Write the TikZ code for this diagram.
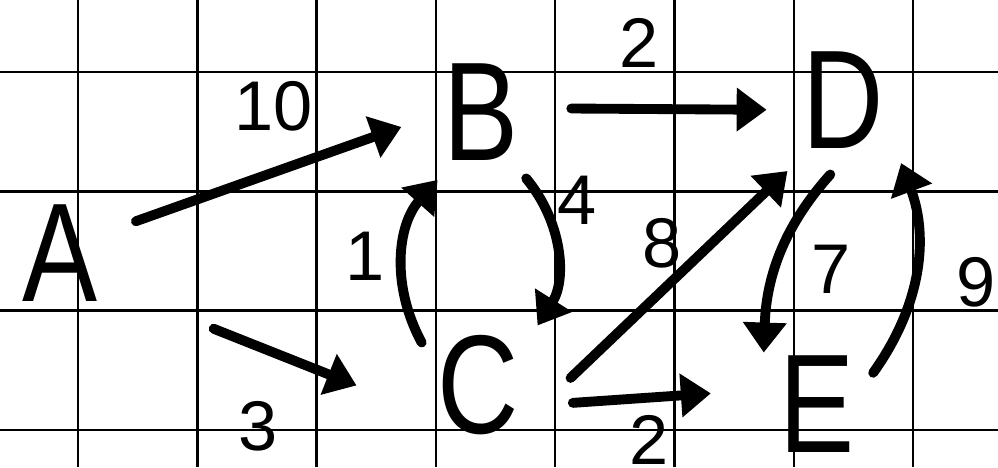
\documentclass[tikz,border=0pt]{standalone}
\usepackage{fontspec}
\setmainfont{Liberation Sans}
\usepackage{graphicx}
\usetikzlibrary{arrows.meta}

\newcommand{\vletter}[1]{\scalebox{0.8}[1]{#1}}

\begin{document}
\begin{tikzpicture}[
  x=0.01cm, y=0.01cm,
  gridline/.style={line width=0.7pt, black},
  vertex/.style={inner sep=0.15cm, font=\fontsize{40}{40}\selectfont},
  wlabel/.style={inner sep=0pt, font=\fontsize{20}{20}\selectfont},
  arrow/.style={-{Triangle[length=0.3cm, width=0.42cm]}, line width=2.8pt, line cap=round}
]
  \useasboundingbox (0,0) rectangle (998,467);

  % squared paper
  \foreach \gx in {0,...,7}
    \draw[gridline] (78+119.3*\gx,0) -- (78+119.3*\gx,467);
  \foreach \gy in {0,...,3}
    \draw[gridline] (0,395-119.3*\gy) -- (998,395-119.3*\gy);

  \node[vertex] (A) at (60,214) {\vletter{A}};
  \node[vertex] (B) at (481,355) {\vletter{B}};
  \node[vertex] (C) at (478,82) {\vletter{C}};
  \node[vertex] (D) at (843,367) {\vletter{D}};
  \node[vertex, inner ysep=0.1cm] (E) at (817,63) {\vletter{E}};

  \draw[arrow, shorten <=0.24cm, shorten >=0.28cm] (A.24) -- node[wlabel, pos=0.51, above=0.36cm] {10} (B.186);
  \draw[arrow, shorten <=0.37cm, shorten >=0.2cm] (B.4) -- node[wlabel, pos=0.415, above=0.37cm] {2} (D.190);
  \draw[arrow, shorten <=1.08cm, shorten >=0.7cm] (A.-34) -- node[wlabel, pos=0.47, below=0.5cm] {3} (C.205);
  \draw[arrow, shorten >=0.05cm] (C.143) to[bend left=35] node[wlabel, left=0.14cm] {1} (B.238);
  \draw[arrow, shorten <=0.03cm, shorten >=0.06cm] (B.-56) to[bend left=36] node[wlabel, pos=0.17, right=0.12cm] {4} (C.44);
  \draw[arrow, shorten <=0.5cm, shorten >=0.1cm] (C.-26) -- node[wlabel, pos=0.49, above=0.18cm] {8} (D.233);
  \draw[arrow, shorten <=0.385cm, shorten >=0.53cm] (C.-20) -- node[wlabel, pos=0.5, below=0.13cm] {2} (E.165);
  \draw[arrow, shorten <=0.14cm] (D.267) to[bend right=20] node[wlabel, pos=0.6, right=0.3cm] {7} (E.136);
  \draw[arrow, shorten <=0.05cm, shorten >=0.05cm] (E.27) to[bend right=28] node[wlabel, pos=0.45, right=0.38cm] {9} (D.-46);
\end{tikzpicture}
\end{document}
